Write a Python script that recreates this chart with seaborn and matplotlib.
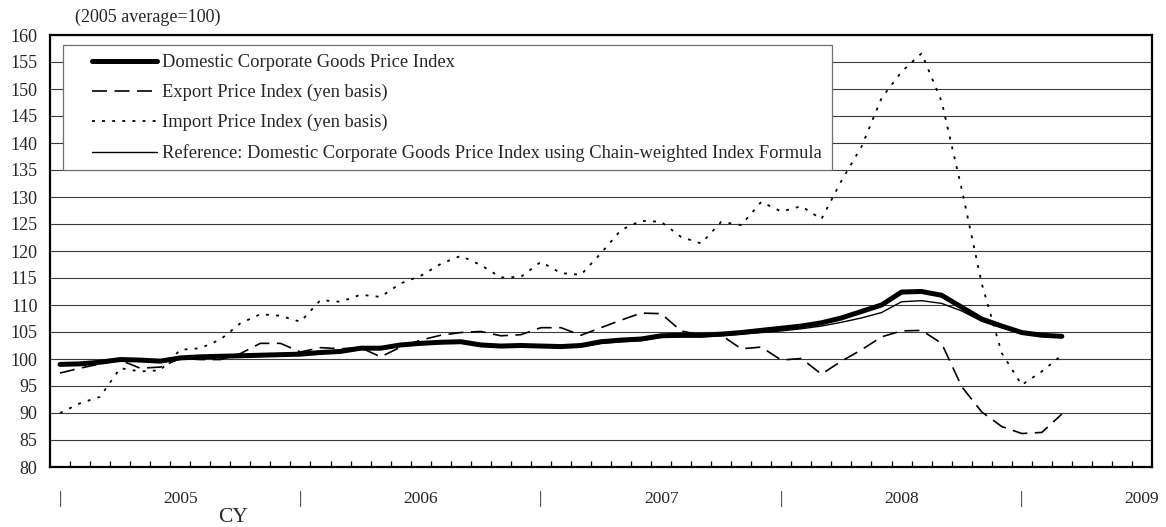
import numpy as np
import matplotlib
matplotlib.use("Agg")
import matplotlib.pyplot as plt
import seaborn as sns
from matplotlib.patches import Rectangle

# ── data: monthly, Jan 2005 .. Mar 2009 (2005 average = 100) ──
months = np.arange(51)

domestic = [99.0, 99.1, 99.4, 99.9, 99.8, 99.6, 100.2, 100.4, 100.5, 100.6, 100.7, 100.8,
            100.9, 101.2, 101.4, 102.0, 102.0, 102.6, 102.9, 103.1, 103.2, 102.6, 102.4, 102.5,
            102.4, 102.3, 102.5, 103.2, 103.5, 103.7, 104.3, 104.4, 104.4, 104.6, 104.9, 105.3,
            105.7, 106.1, 106.7, 107.6, 108.8, 110.0, 112.4, 112.5, 111.8, 109.6, 107.4, 106.1,
            104.9, 104.4, 104.2]

export = [97.4, 98.3, 99.1, 99.8, 98.3, 98.5, 100.1, 99.9, 99.9, 101.0, 102.9, 102.9,
          101.3, 102.1, 101.9, 102.1, 100.4, 102.2, 103.5, 104.4, 104.9, 105.1, 104.3, 104.5,
          105.8, 105.8, 104.4, 105.8, 107.2, 108.5, 108.4, 105.2, 104.4, 104.4, 101.9, 102.2,
          99.8, 100.1, 97.2, 99.6, 101.7, 104.1, 105.2, 105.3, 102.9, 94.9, 90.2, 87.5,
          86.2, 86.4, 89.8]

imports = [90.0, 91.8, 93.0, 98.3, 97.7, 97.9, 101.7, 102.0, 103.6, 106.6, 108.3, 108.0,
           106.9, 110.9, 110.6, 111.9, 111.5, 114.0, 115.4, 117.6, 119.1, 117.4, 115.1, 115.2,
           118.0, 115.9, 115.6, 119.6, 123.9, 125.6, 125.4, 122.6, 121.4, 125.4, 124.8, 129.1,
           127.3, 128.3, 125.9, 133.0, 139.3, 148.3, 153.2, 156.6, 147.7, 131.5, 114.0, 101.1,
           95.2, 97.7, 100.7]

chain = [99.0, 99.1, 99.4, 99.8, 99.7, 99.6, 100.1, 100.3, 100.4, 100.5, 100.6, 100.7,
         100.8, 101.0, 101.2, 101.8, 101.8, 102.4, 102.7, 102.9, 103.0, 102.4, 102.2, 102.3,
         102.2, 102.1, 102.3, 102.9, 103.2, 103.4, 104.0, 104.1, 104.1, 104.3, 104.6, 104.9,
         105.2, 105.6, 106.1, 106.8, 107.6, 108.6, 110.6, 110.8, 110.3, 108.9, 107.0, 105.8,
         104.8, 104.3, 104.1]

labels = ["Domestic Corporate Goods Price Index",
          "Export Price Index (yen basis)",
          "Import Price Index (yen basis)",
          "Reference: Domestic Corporate Goods Price Index using Chain-weighted Index Formula"]

tick_pos = [0, 6, 12, 18, 24, 30, 36, 42, 48, 54]
tick_txt = ["|", "2005", "|", "2006", "|", "2007", "|", "2008", "|", "2009"]

# ── style ──
sns.set_style("white")
plt.rcParams["font.family"] = ["Liberation Serif", "DejaVu Serif"]

fig = plt.figure(figsize=(11.66, 5.27), dpi=100)
ax = fig.add_axes([50 / 1166, 1 - 467 / 527, 1102 / 1166, 432 / 527])

sns.lineplot(x=months, y=domestic, ax=ax, color="black", linewidth=3.6,
             label=labels[0], solid_capstyle="round", zorder=4)
sns.lineplot(x=months, y=export, ax=ax, color="black", linewidth=1.2,
             linestyle=(0, (9, 4.5)), label=labels[1], zorder=3)
sns.lineplot(x=months, y=imports, ax=ax, color="black", linewidth=1.3,
             linestyle=(0, (1.6, 4.0)), label=labels[2], zorder=3)
sns.lineplot(x=months, y=chain, ax=ax, color="black", linewidth=1.0,
             label=labels[3], zorder=3)

ax.set_xlim(-0.5, 54.5)
ax.set_ylim(80, 160)
ax.set_yticks(np.arange(80, 161, 5))
ax.grid(axis="y", color="#3a3a3a", linewidth=0.8)
ax.set_axisbelow(True)
ax.set_xlabel("")
ax.set_ylabel("")

ax.set_xticks(tick_pos)
ax.set_xticklabels(tick_txt)
ax.set_xticks(np.arange(0.5, 54, 1), minor=True)
ax.tick_params(axis="x", which="major", bottom=True, length=0, pad=17, labelsize=12.5)
ax.tick_params(axis="x", which="minor", bottom=True, direction="in", length=4,
               width=0.9, color="black")
ax.tick_params(axis="y", length=0, pad=9, labelsize=13)

for s in ax.spines.values():
    s.set_color("black")
    s.set_linewidth(1.6)

# legend box (white panel) + entries
ax.add_patch(Rectangle((13 / 1102, (467 - 170) / 432), 769 / 1102, 125 / 432,
                       transform=ax.transAxes, facecolor="white", edgecolor="#707070",
                       linewidth=0.9, zorder=5))
leg = ax.legend(loc="upper left", bbox_to_anchor=(42 / 1102, (467 - 54) / 432),
                frameon=False, fontsize=13.3, handlelength=3.5, handletextpad=0.3,
                labelspacing=0.7, borderpad=0, borderaxespad=0)
leg.set_zorder(6)

fig.text(75 / 1166, 1 - 17 / 527, "(2005 average=100)", fontsize=13, va="center", ha="left")
fig.text(233 / 1166, 1 - 517 / 527, "CY", fontsize=15.5, va="center", ha="center")

fig.savefig("out.png", dpi=100)
